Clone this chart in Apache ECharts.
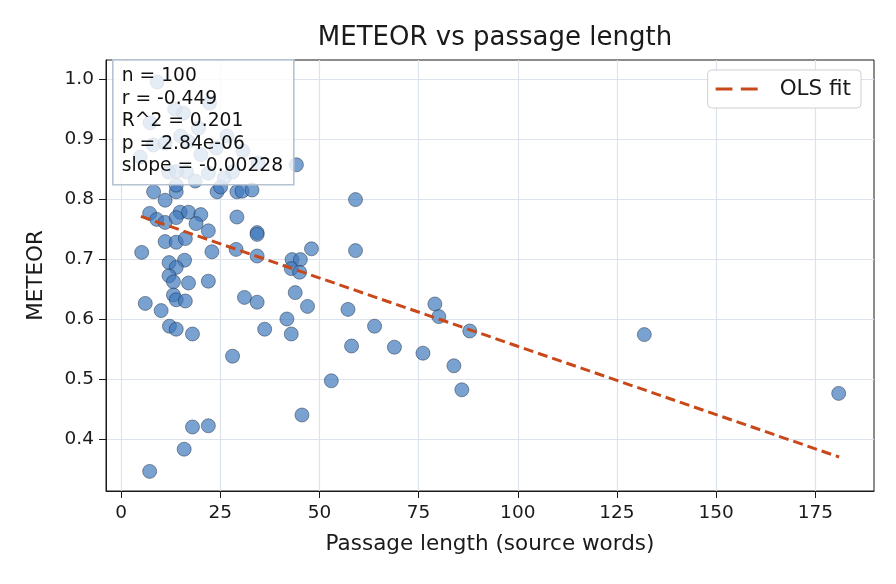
<!DOCTYPE html>
<html>
<head>
<meta charset="utf-8">
<script src="https://cdn.jsdelivr.net/npm/echarts@6/dist/echarts.min.js"></script>
<style>
  html, body { margin: 0; padding: 0; background: #fff; }
  #chart { width: 896px; height: 584px; }
</style>
</head>
<body>
<div id="chart"></div>
<script>
// passage length (source words) and METEOR
var lengths = [9.1, 15.7, 7.3, 20.1, 12.0, 16.5, 22.0, 28.1, 44.2, 8.2,
  13.9, 13.9, 11.1, 24.2, 25.1, 29.2, 30.5, 33.0, 7.2, 9.0,
  11.1, 14.9, 17.0, 13.9, 20.1, 18.9, 22.0, 29.2, 34.3, 34.3,
  5.2, 11.1, 13.9, 16.2, 22.9, 29.0, 34.3, 12.1, 16.0, 13.9,
  12.1, 13.2, 17.0, 22.0, 13.2, 13.9, 16.2, 6.1, 10.1, 31.1,
  34.3, 43.9, 41.8, 12.2, 13.9, 18.0, 28.1, 36.2, 42.9, 18.0,
  22.0, 15.9, 7.2, 45.6, 59.1, 48.0, 59.1, 43.1, 45.2, 42.9,
  45.0, 47.0, 57.2, 63.9, 58.1, 53.0, 79.1, 80.1, 87.9, 68.9,
  76.1, 83.9, 85.9, 131.9, 180.9, 8.1, 11.1, 16.9, 14.0, 19.5,
  24.0, 26.7, 4.8, 13.5, 22.3, 30.7, 34.5, 15.0, 26.0, 18.7];
var meteor = [0.995, 0.943, 0.927, 0.874, 0.845, 0.845, 0.843, 0.845, 0.857, 0.812,
  0.812, 0.823, 0.798, 0.812, 0.820, 0.812, 0.813, 0.815, 0.776, 0.766,
  0.761, 0.778, 0.778, 0.769, 0.774, 0.759, 0.747, 0.770, 0.744, 0.741,
  0.711, 0.729, 0.728, 0.734, 0.712, 0.716, 0.705, 0.694, 0.698, 0.686,
  0.672, 0.662, 0.660, 0.663, 0.640, 0.632, 0.630, 0.626, 0.614, 0.636,
  0.628, 0.644, 0.600, 0.588, 0.583, 0.575, 0.538, 0.583, 0.575, 0.420,
  0.422, 0.383, 0.346, 0.440, 0.799, 0.717, 0.714, 0.699, 0.699, 0.684,
  0.678, 0.621, 0.616, 0.588, 0.555, 0.497, 0.625, 0.604, 0.580, 0.553,
  0.543, 0.522, 0.482, 0.574, 0.476, 0.890, 0.893, 0.896, 0.846, 0.918,
  0.885, 0.905, 0.870, 0.950, 0.960, 0.880, 0.860, 0.905, 0.835, 0.830];

// OLS fit line end points
var fitX = [5, 181];
var fitY = [0.771, 0.370];

var xTicks = [0, 25, 50, 75, 100, 125, 150, 175];
var yTicks = [0.4, 0.5, 0.6, 0.7, 0.8, 0.9, 1.0];

var statLines = ['n = 100', 'r = -0.449', 'R^2 = 0.201', 'p = 2.84e-06', 'slope = -0.00228'];

var points = lengths.map(function (x, i) { return [x, meteor[i]]; });
var fitData = fitX.map(function (x, i) { return [x, fitY[i]]; });

var font = 'DejaVu Sans';
var ink = '#1a1a1a';
var chart = echarts.init(document.getElementById('chart'));

function axisBase(ticks) {
  return {
    type: 'value',
    nameLocation: 'middle',
    nameTextStyle: { fontFamily: font, fontSize: 21.5, color: ink },
    axisLine: { show: true, onZero: false, lineStyle: { color: ink, width: 1 } },
    axisTick: { show: true, inside: false, length: 7, customValues: ticks, lineStyle: { color: ink } },
    splitLine: { show: true, customValues: ticks, lineStyle: { color: '#dde3ec', width: 1.2 } }
  };
}

var xAxis = axisBase(xTicks);
xAxis.min = -3.8;
xAxis.max = 189.8;
xAxis.name = 'Passage length (source words)';
xAxis.nameGap = 42;
xAxis.axisLabel = { customValues: xTicks, fontSize: 18.5, color: ink, margin: 13, fontFamily: font };

var yAxis = axisBase(yTicks);
yAxis.min = 0.3133;
yAxis.max = 1.0317;
yAxis.name = 'METEOR';
yAxis.nameGap = 59;
yAxis.axisLabel = {
  customValues: yTicks, fontSize: 18.5, color: ink, margin: 12, fontFamily: font,
  formatter: function (v) { return v.toFixed(1); }
};

chart.setOption({
  animation: false,
  textStyle: { fontFamily: font },
  title: {
    text: 'METEOR vs passage length',
    left: 490,
    textAlign: 'center',
    top: 20,
    textStyle: { fontFamily: font, fontSize: 26, fontWeight: 'normal', color: ink }
  },
  grid: { left: 106, right: 22, top: 60, bottom: 93, show: true, borderColor: ink, borderWidth: 1 },
  legend: {
    right: 35,
    top: 70,
    padding: [8, 10, 8, 8],
    itemWidth: 42,
    itemHeight: 3.15,
    backgroundColor: '#fff',
    borderColor: '#d0d0d0',
    borderWidth: 1,
    borderRadius: 4,
    itemStyle: { borderWidth: 0 },
    textStyle: { fontFamily: font, fontSize: 21.5, color: ink, padding: [0, 0, 0, 17] },
    data: [{ name: 'OLS fit', icon: 'path://M0,0H16V3H0Z M24,0H40V3H24Z' }]
  },
  xAxis: xAxis,
  yAxis: yAxis,
  series: [
    {
      type: 'scatter',
      name: 'points',
      data: points,
      symbolSize: 14,
      itemStyle: { color: 'rgba(60,118,188,0.85)', borderColor: '#1c2a40', borderWidth: 0.6 },
      z: 3
    },
    {
      type: 'line',
      name: 'OLS fit',
      data: fitData,
      symbol: 'none',
      lineStyle: { color: '#c9481a', width: 3, type: [10, 5] },
      itemStyle: { color: '#c9481a' },
      z: 4
    }
  ],
  graphic: [{
    type: 'group',
    left: 112,
    top: 59,
    z: 100,
    children: [
      {
        type: 'rect',
        z: 100,
        shape: { x: 0, y: 0, width: 181, height: 125 },
        style: { fill: 'rgba(255,255,255,0.8)', stroke: '#b4c2d2', lineWidth: 1.6 }
      }
    ].concat(statLines.map(function (s, i) {
      return {
        type: 'text',
        z: 101,
        x: 9,
        y: 16.5 + i * 22.5,
        style: { text: s, font: '18.7px "DejaVu Sans"', fill: '#111', textVerticalAlign: 'middle' }
      };
    }))
  }]
});
</script>
</body>
</html>
